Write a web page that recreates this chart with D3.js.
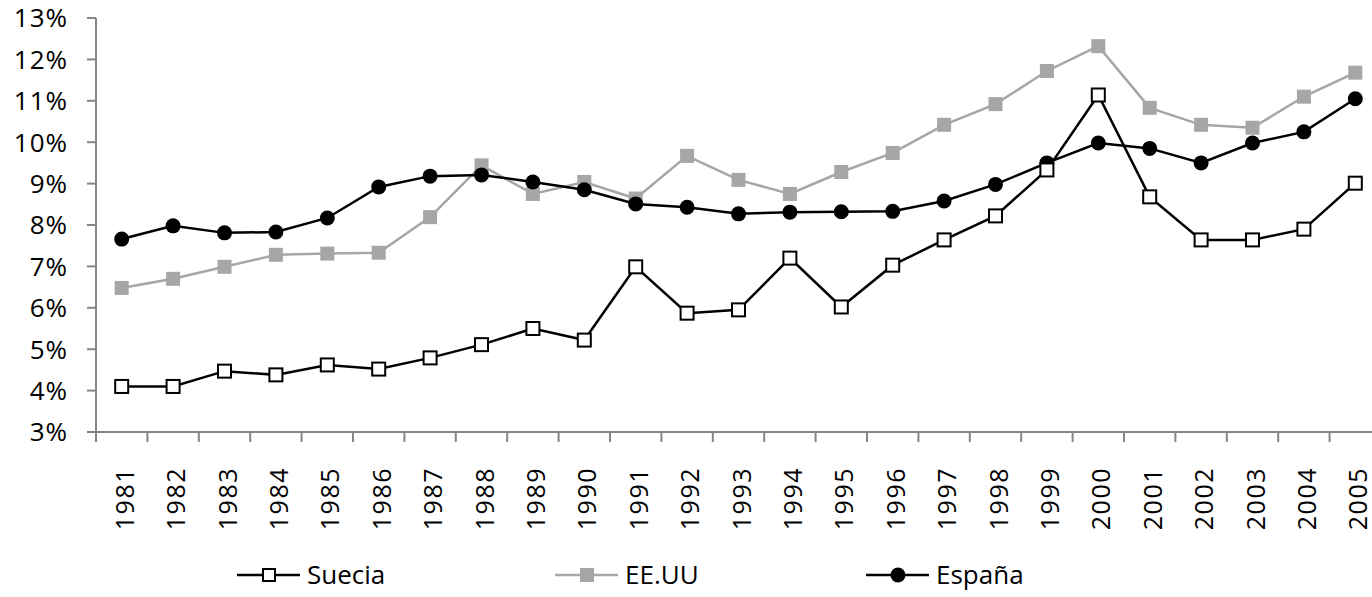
<!DOCTYPE html>
<html>
<head>
<meta charset="utf-8">
<script src="https://cdn.jsdelivr.net/npm/d3@7"></script>
<style>
  body { margin: 0; background: #fff; }
  text { font-family: "Open Sans", sans-serif; fill: #000; }
</style>
</head>
<body>
<div id="chart"></div>
<script>
var years = ['1981','1982','1983','1984','1985','1986','1987','1988','1989','1990','1991','1992','1993',
  '1994','1995','1996','1997','1998','1999','2000','2001','2002','2003','2004','2005'];
var suecia = [4.1, 4.1, 4.47, 4.38, 4.62, 4.52, 4.79, 5.11, 5.5, 5.22, 6.99, 5.87, 5.95,
  7.2, 6.02, 7.03, 7.64, 8.22, 9.33, 11.14, 8.68, 7.64, 7.64, 7.9, 9.01];
var eeuu = [6.48, 6.7, 6.99, 7.28, 7.31, 7.33, 8.19, 9.44, 8.75, 9.04, 8.64, 9.67, 9.09,
  8.75, 9.28, 9.74, 10.42, 10.92, 11.72, 12.32, 10.83, 10.42, 10.35, 11.1, 11.68];
var espana = [7.66, 7.98, 7.81, 7.83, 8.17, 8.92, 9.18, 9.21, 9.04, 8.85, 8.51, 8.43, 8.27,
  8.31, 8.32, 8.33, 8.58, 8.98, 9.5, 9.98, 9.85, 9.5, 9.98, 10.25, 11.05];
var yTicks = [3, 4, 5, 6, 7, 8, 9, 10, 11, 12, 13];

var width = 1372, height = 597;
var axisColor = '#868686';
var grey = '#a6a6a6';

var svg = d3.select('#chart').append('svg')
  .attr('width', width)
  .attr('height', height);

var x = d3.scaleBand()
  .domain(years)
  .range([96, 96 + 25 * 51.4]);

var y = d3.scaleLinear()
  .domain([3, 13])
  .range([432, 18]);

var cx = function(i){ return x(years[i]) + x.bandwidth() / 2; };

// y axis
var yAxis = svg.append('g');
yAxis.append('line')
  .attr('x1', 96).attr('x2', 96)
  .attr('y1', y(13)).attr('y2', y(3))
  .attr('stroke', axisColor).attr('stroke-width', 2);
yAxis.selectAll('line.tick')
  .data(yTicks)
  .enter()
  .append('line')
  .attr('class', 'tick')
  .attr('x1', 87).attr('x2', 96)
  .attr('y1', function(d){ return y(d); })
  .attr('y2', function(d){ return y(d); })
  .attr('stroke', axisColor).attr('stroke-width', 2);
yAxis.selectAll('text')
  .data(yTicks)
  .enter()
  .append('text')
  .attr('x', 68)
  .attr('y', function(d){ return y(d); })
  .attr('dy', '0.36em')
  .attr('text-anchor', 'end')
  .style('font-size', '26px')
  .style('letter-spacing', '1px')
  .text(function(d){ return d + '%'; });

// x axis
var xAxis = svg.append('g');
xAxis.append('line')
  .attr('x1', 87).attr('x2', width)
  .attr('y1', y(3)).attr('y2', y(3))
  .attr('stroke', axisColor).attr('stroke-width', 2);
xAxis.selectAll('line.tick')
  .data(years)
  .enter()
  .append('line')
  .attr('class', 'tick')
  .attr('x1', function(d){ return x(d); })
  .attr('x2', function(d){ return x(d); })
  .attr('y1', y(3)).attr('y2', y(3) + 10)
  .attr('stroke', axisColor).attr('stroke-width', 2);
xAxis.selectAll('text')
  .data(years)
  .enter()
  .append('text')
  .attr('transform', function(d, i){
    return 'translate(' + (cx(i) + 12) + ',467) rotate(-90)';
  })
  .attr('text-anchor', 'end')
  .style('font-size', '25px')
  .style('letter-spacing', '1.5px')
  .text(function(d){ return d; });

var line = d3.line()
  .x(function(d, i){ return cx(i); })
  .y(function(d){ return y(d); });

// EE.UU
svg.append('path')
  .datum(eeuu)
  .attr('d', line)
  .attr('fill', 'none')
  .attr('stroke', grey)
  .attr('stroke-width', 2.5);
svg.selectAll('rect.eeuu')
  .data(eeuu)
  .enter()
  .append('rect')
  .attr('class', 'eeuu')
  .attr('x', function(d, i){ return cx(i) - 7; })
  .attr('y', function(d){ return y(d) - 7; })
  .attr('width', 14).attr('height', 14)
  .attr('fill', grey);

// España
svg.append('path')
  .datum(espana)
  .attr('d', line)
  .attr('fill', 'none')
  .attr('stroke', '#000')
  .attr('stroke-width', 2.5);
svg.selectAll('circle.espana')
  .data(espana)
  .enter()
  .append('circle')
  .attr('class', 'espana')
  .attr('cx', function(d, i){ return cx(i); })
  .attr('cy', function(d){ return y(d); })
  .attr('r', 7.5)
  .attr('fill', '#000');

// Suecia
svg.append('path')
  .datum(suecia)
  .attr('d', line)
  .attr('fill', 'none')
  .attr('stroke', '#000')
  .attr('stroke-width', 2.5);
svg.selectAll('rect.suecia')
  .data(suecia)
  .enter()
  .append('rect')
  .attr('class', 'suecia')
  .attr('x', function(d, i){ return cx(i) - 6.5; })
  .attr('y', function(d){ return y(d) - 6.5; })
  .attr('width', 13).attr('height', 13)
  .attr('fill', '#fff')
  .attr('stroke', '#000')
  .attr('stroke-width', 2);

// legend
var legend = [
  { name: 'Suecia', x: 237, color: '#000', marker: 'open' },
  { name: 'EE.UU', x: 555, color: grey, marker: 'square' },
  { name: 'España', x: 866, color: '#000', marker: 'circle' }
];
var lg = svg.selectAll('g.legend')
  .data(legend)
  .enter()
  .append('g')
  .attr('class', 'legend')
  .attr('transform', function(d){ return 'translate(' + d.x + ',575)'; });
lg.append('line')
  .attr('x1', 0).attr('x2', 63)
  .attr('stroke', function(d){ return d.color; })
  .attr('stroke-width', 2.5);
lg.each(function(d){
  var g = d3.select(this);
  if (d.marker === 'open') {
    g.append('rect').attr('x', 26).attr('y', -6).attr('width', 12).attr('height', 12)
      .attr('fill', '#fff').attr('stroke', '#000').attr('stroke-width', 2);
  } else if (d.marker === 'square') {
    g.append('rect').attr('x', 25).attr('y', -7).attr('width', 14).attr('height', 14)
      .attr('fill', grey);
  } else {
    g.append('circle').attr('cx', 32).attr('r', 7.5).attr('fill', '#000');
  }
});
lg.append('text')
  .attr('x', 70)
  .attr('dy', '0.36em')
  .style('font-size', '26px')
  .text(function(d){ return d.name; });
</script>
</body>
</html>
